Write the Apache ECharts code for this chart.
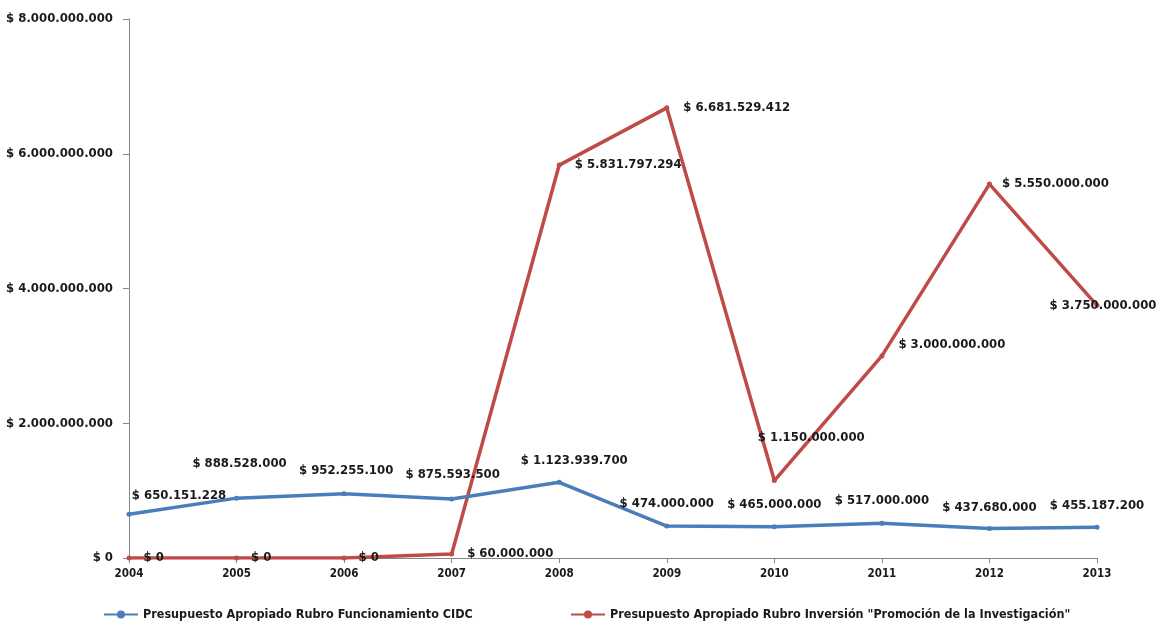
<!DOCTYPE html>
<html>
<head>
<meta charset="utf-8">
<script src="https://cdn.jsdelivr.net/npm/echarts@6/dist/echarts.min.js"></script>
<style>html,body{margin:0;padding:0;background:#fff;}#c{width:1157px;height:624px;}</style>
</head>
<body>
<div id="c"></div>
<script>
const years = ['2004','2005','2006','2007','2008','2009','2010','2011','2012','2013'];
const funcionamiento = [650151228, 888528000, 952255100, 875593500, 1123939700, 474000000, 465000000, 517000000, 437680000, 455187200];
const inversion = [0, 0, 0, 60000000, 5831797294, 6681529412, 1150000000, 3000000000, 5550000000, 3750000000];
const yTicks = [0, 2000000000, 4000000000, 6000000000, 8000000000];
const seriesNames = ['Presupuesto Apropiado Rubro Funcionamiento CIDC', 'Presupuesto Apropiado Rubro Inversión "Promoción de la Investigación"'];

// label placement styles (pixel offsets)
const blueOffsets = [[50,-5],[3,-21],[2,-9],[1,-10],[15,-8],[0,-8],[0,-8],[0,-9],[0,-7],[0,-8]];
const redOffsets = [[7,0],[7,0],[7,0],[8,0],[8,0],[9,0],[-24,-43],[9,-11],[5,0],[-55,0]];

const FONT = '"Liberation Sans Narrow","DejaVu Sans Condensed","Arial Narrow",sans-serif';
function money(v){
  const s = Math.round(v).toString().replace(/\B(?=(\d{3})+(?!\d))/g, '.');
  return '$ ' + s;
}
const labelBase = {show:true, fontFamily:FONT, fontWeight:'bold', fontSize:13, color:'#1a1a1a', formatter:p=>money(p.value)};
const legendText = {fontFamily:FONT, fontWeight:'bold', fontSize:12.5, color:'#1a1a1a'};

const chart = echarts.init(document.getElementById('c'), null, {renderer:'canvas'});
chart.setOption({
  animation:false,
  backgroundColor:'#fff',
  grid:{left:129, right:60, top:19, bottom:66, containLabel:false, outerBoundsMode:'none'},
  legend:[
    {left:98, top:603, itemWidth:34, itemHeight:10, textStyle:legendText, data:[seriesNames[0]]},
    {left:565, top:603, itemWidth:34, itemHeight:10, textStyle:legendText, data:[seriesNames[1]]}
  ],
  xAxis:{
    type:'category', data:years, boundaryGap:false,
    axisLine:{lineStyle:{color:'#868686', width:1}},
    axisTick:{show:true, length:5, lineStyle:{color:'#868686'}},
    axisLabel:{fontFamily:FONT, fontWeight:'bold', fontSize:11.5, color:'#1a1a1a', margin:10}
  },
  yAxis:{
    type:'value', min:0, max:8000000000, interval:2000000000,
    axisLine:{show:true, lineStyle:{color:'#868686', width:1}},
    axisTick:{show:true, length:6, lineStyle:{color:'#868686'}},
    splitLine:{show:false},
    axisLabel:{fontFamily:FONT, fontWeight:'bold', fontSize:13, color:'#1a1a1a', margin:16, formatter:v=>money(v)}
  },
  series:[
    {
      name:seriesNames[0], type:'line', z:3,
      data:funcionamiento.map((v,i)=>({value:v, label:{offset:blueOffsets[i]}})),
      lineStyle:{color:'#4a7ebb', width:3.5}, itemStyle:{color:'#4a7ebb'},
      symbol:'circle', symbolSize:5, showAllSymbol:true,
      label:Object.assign({position:'top'}, labelBase)
    },
    {
      name:seriesNames[1], type:'line', z:2,
      data:inversion.map((v,i)=>({value:v, label:{offset:redOffsets[i]}})),
      lineStyle:{color:'#be4b48', width:3.5}, itemStyle:{color:'#be4b48'},
      symbol:'circle', symbolSize:5, showAllSymbol:true,
      label:Object.assign({position:'right', distance:5}, labelBase)
    }
  ]
});
</script>
</body>
</html>
